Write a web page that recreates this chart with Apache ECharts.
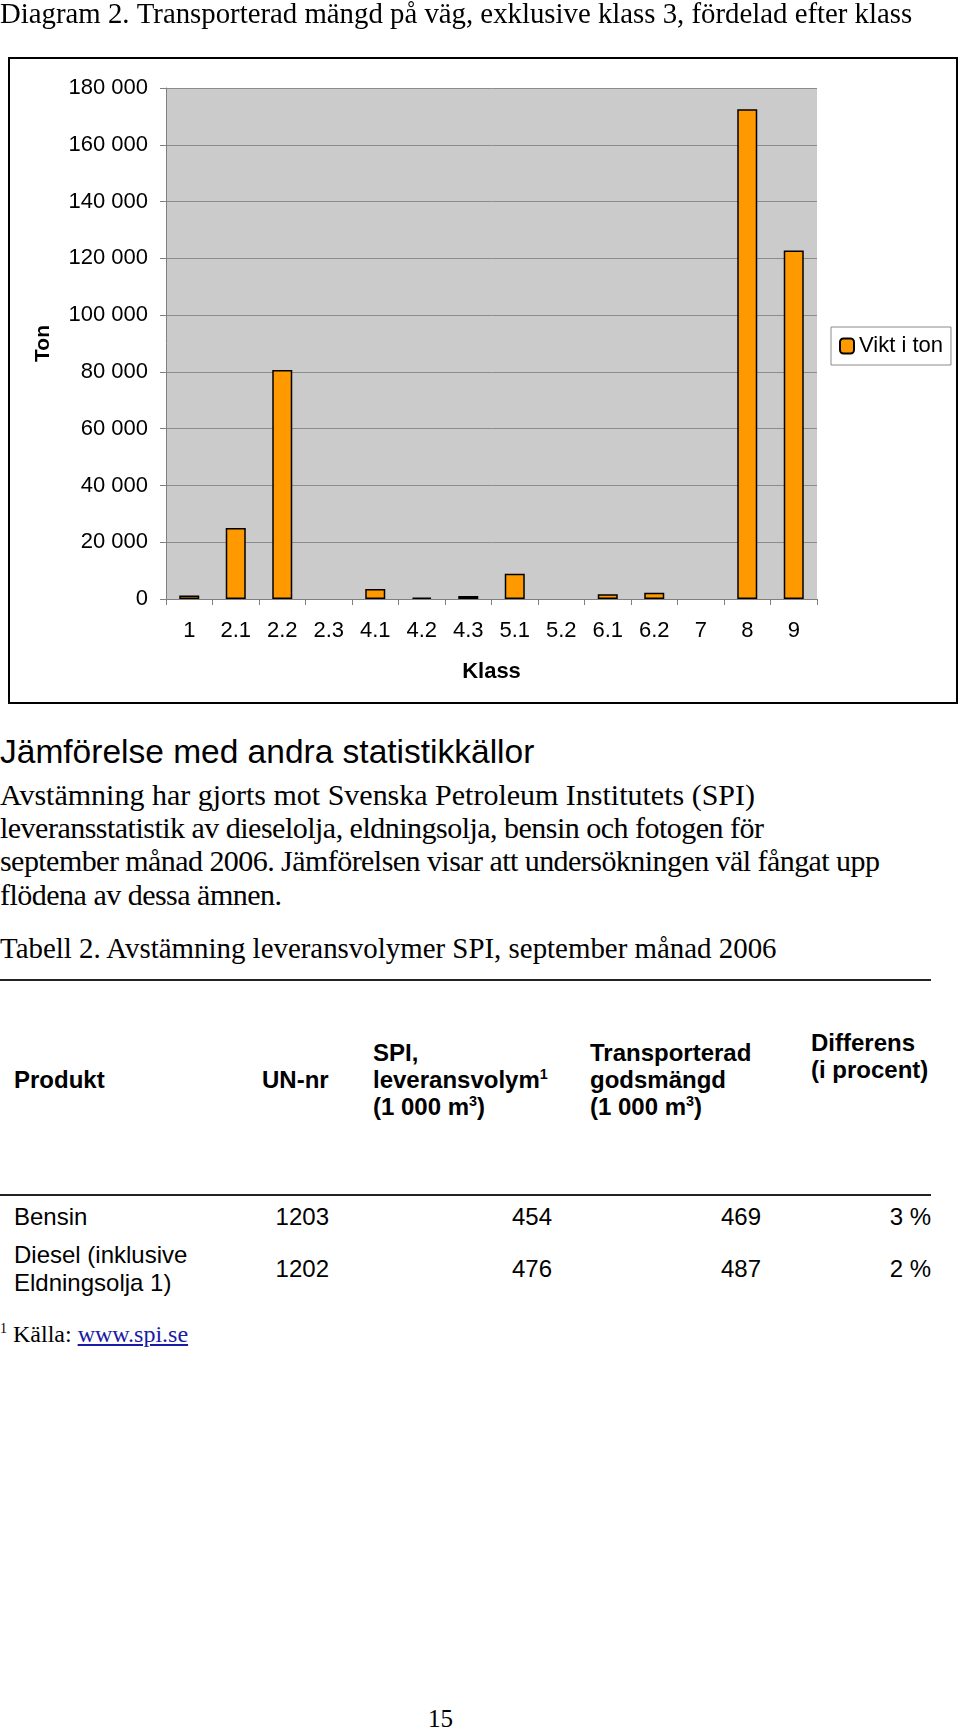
<!DOCTYPE html>
<html><head><meta charset="utf-8">
<script src="https://cdn.jsdelivr.net/npm/echarts@6/dist/echarts.min.js"></script>
<style>
html,body{margin:0;padding:0;background:#fff;}
body{width:960px;height:1732px;position:relative;overflow:hidden;}
.t{position:absolute;white-space:nowrap;color:#000;}
.serif{font-family:"Liberation Serif","Times New Roman",serif;}
.sans{font-family:"Liberation Sans",Arial,sans-serif;}
#chart{position:absolute;left:0;top:0;width:960px;height:720px;}
a{color:#1a1aa6;}
sup{font-size:60%;line-height:0;vertical-align:baseline;position:relative;top:-0.6em;}
</style></head>
<body>
<div id="chart"></div>
<div id="text"></div>
<script>
// ---- data ----
const chartTitle = "Diagram 2. Transporterad mängd på väg, exklusive klass 3, fördelad efter klass";
const categories = ["1","2.1","2.2","2.3","4.1","4.2","4.3","5.1","5.2","6.1","6.2","7","8","9"];
const viktITon = [1200, 25000, 80700, 0, 3500, 500, 1100, 8900, 0, 1700, 2200, 0, 172500, 122800];
const yTickValues = [0, 20000, 40000, 60000, 80000, 100000, 120000, 140000, 160000, 180000];
const seriesName = "Vikt i ton";
const yAxisTitle = "Ton";
const xAxisTitle = "Klass";

const heading = "Jämförelse med andra statistikkällor";
const paragraphLines = [
  "Avstämning har gjorts mot Svenska Petroleum Institutets (SPI)",
  "leveransstatistik av dieselolja, eldningsolja, bensin och fotogen för",
  "september månad 2006. Jämförelsen visar att undersökningen väl fångat upp",
  "flödena av dessa ämnen."
];
const tableCaption = "Tabell 2. Avstämning leveransvolymer SPI, september månad 2006";
const products = ["Bensin", "Diesel (inklusive<br>Eldningsolja 1)"];
const unNr = ["1203", "1202"];
const spiVolym = [454, 476];
const transporterad = [469, 487];
const differens = ["3 %", "2 %"];
const pageNumber = "15";

// layout (pixel widths of paragraph lines in the page)
const paragraphLineWidths = [755, 764, 880, 282];

// ---- chart ----
const chart = echarts.init(document.getElementById('chart'), null, {renderer:'canvas'});
chart.setOption({
  animation:false,
  backgroundColor:'#fff',
  title:{text:chartTitle,left:0,top:1,textStyle:{fontFamily:'Liberation Serif',fontWeight:'normal',fontSize:28.8,color:'#000'},padding:0},
  graphic:[{type:'rect',shape:{x:9,y:58,width:948,height:645},style:{fill:'none',stroke:'#000',lineWidth:2}}],
  grid:{left:166,right:143,top:88,bottom:121,show:true,backgroundColor:'#cbcbcb',borderWidth:0},
  legend:{data:[seriesName],left:831,top:327,orient:'vertical',padding:[8,8,8,8],itemWidth:14,itemHeight:15,itemGap:0,
    borderColor:'#8a8a8a',borderWidth:1,backgroundColor:'#fff',
    textStyle:{fontFamily:'Liberation Sans',fontSize:22,color:'#000'}},
  xAxis:{type:'category',data:categories,
    name:xAxisTitle,nameLocation:'middle',nameGap:62,
    nameTextStyle:{fontFamily:'Liberation Sans',fontWeight:'bold',fontSize:22,color:'#000'},
    axisLine:{lineStyle:{color:'#808080',width:1}},
    axisTick:{show:true,alignWithLabel:false,length:6,lineStyle:{color:'#808080'}},
    axisLabel:{fontFamily:'Liberation Sans',fontSize:22,color:'#000',margin:21,interval:0}},
  yAxis:{type:'value',min:yTickValues[0],max:yTickValues[yTickValues.length-1],interval:yTickValues[1]-yTickValues[0],
    name:yAxisTitle,nameLocation:'middle',nameGap:112,
    nameTextStyle:{fontFamily:'Liberation Sans',fontWeight:'bold',fontSize:21,color:'#000'},
    axisLine:{show:true,lineStyle:{color:'#808080',width:1}},
    axisTick:{show:true,length:6,lineStyle:{color:'#808080'}},
    splitLine:{lineStyle:{color:'#8c8c8c',width:1}},
    axisLabel:{fontFamily:'Liberation Sans',fontSize:22,color:'#000',margin:18,
      formatter:v=>String(v).replace(/\B(?=(\d{3})+(?!\d))/g,' ')}},
  series:[{name:seriesName,type:'bar',data:viktITon.map(v=>v===0?null:v),barWidth:20,
    itemStyle:{color:'#ff9900',borderColor:'#000',borderWidth:1.5}}]
});

// ---- text ----
const T = document.getElementById('text');
function put(html, cls, x, cy, fs, lh, extra){
  const d=document.createElement('div');
  d.className='t '+cls;
  d.innerHTML=html;
  d.style.left=x+'px';
  d.style.fontSize=fs+'px';
  d.style.lineHeight=lh+'px';
  d.style.top=(cy-lh/2)+'px';
  if(extra) Object.assign(d.style,extra);
  T.appendChild(d);
  return d;
}
put(heading,'sans',0,752,33.5,36);
const pTop=795, pStep=33.2;
paragraphLines.forEach((l,i)=>{
  const d=put(l,'serif',0,pTop+i*pStep,30,34);
  const w=d.getBoundingClientRect().width;
  const n=l.length-1;
  if(n>0) d.style.letterSpacing=((paragraphLineWidths[i]-w)/n).toFixed(3)+'px';
});
put(tableCaption,'serif',0,948,28.9,34);

// rules
function rule(y){const d=document.createElement('div');d.style.cssText='position:absolute;left:0;width:931px;height:2px;background:#222;top:'+(y-1)+'px';T.appendChild(d);}
rule(980); rule(1195);

// header
const hb={fontWeight:'bold'};
const FS=24, LH=27;
put('Produkt','sans',14,1079,FS,LH,hb);
put('UN-nr','sans',262,1079,FS,LH,hb);
put('SPI,<br>leveransvolym<sup>1</sup><br>(1 000 m<sup>3</sup>)','sans',373,1079,FS,LH,Object.assign({top:(1052-13.5)+'px'},hb));
put('Transporterad<br>godsmängd<br>(1 000 m<sup>3</sup>)','sans',590,1079,FS,LH,Object.assign({top:(1052-13.5)+'px'},hb));
put('Differens<br>(i procent)','sans',811,1055,FS,LH,Object.assign({top:(1042-13.5)+'px'},hb));

// rows
const rowCy=[1216,1268];
function putR(txt,right,cy){
  const d=put(txt,'sans',0,cy,FS,LH);
  d.style.left='auto'; d.style.right=(960-right)+'px';
}
products.forEach((p,i)=>{
  if(i===0) put(p,'sans',14,rowCy[i],FS,LH);
  else { const d=put(p,'sans',14,rowCy[i],FS,28); d.style.top=(1255-14)+'px'; }
  putR(unNr[i],329,rowCy[i]);
  putR(String(spiVolym[i]),552,rowCy[i]);
  putR(String(transporterad[i]),761,rowCy[i]);
  putR(differens[i],931,rowCy[i]);
});
put('<sup style="font-size:14px;top:-9px">1</sup> Källa: <a href="#">www.spi.se</a>','serif',0,1334,24,28);
put(pageNumber,'serif',428,1719,25,28);
</script>
</body></html>
